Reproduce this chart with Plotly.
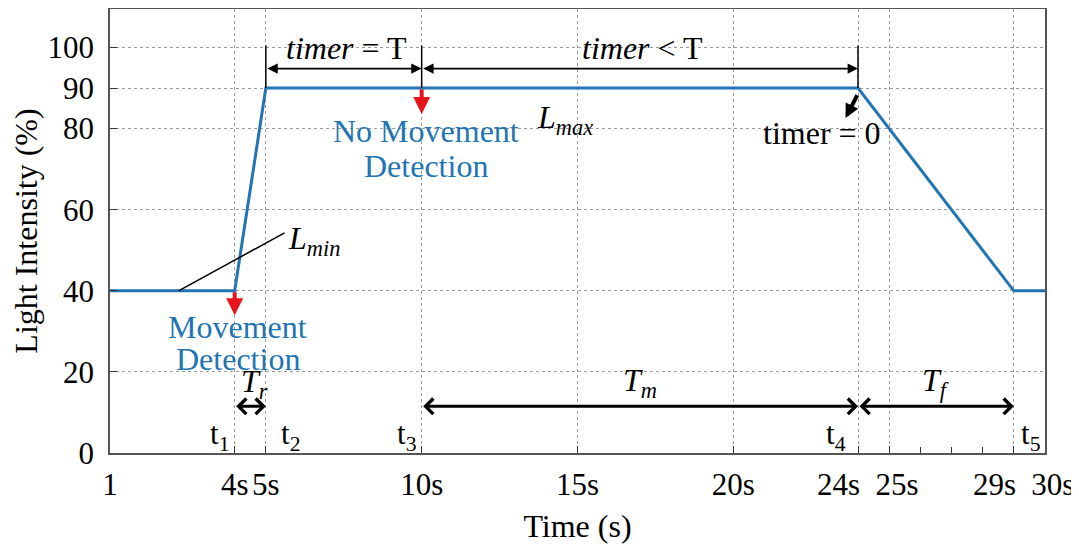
import plotly.graph_objects as go

# Data
time_s = [0, 4, 5, 24, 29, 30]
intensity = [40, 40, 90, 90, 40, 40]
x_tickvals = [0, 4, 5, 10, 15, 20, 24, 25, 29, 30]
NB = "\u00a0"
x_ticktext = ["1", "4s", "5s", "10s", "15s", "20s", "24s" + NB * 5, NB * 2 + "25s",
              "29s" + NB * 5, NB * 2 + "30s"]
y_tickvals = [0, 20, 40, 60, 80, 90, 100]

BLUE = "#2275b3"
FONT = "Liberation Serif"
TS = 32

fig = go.Figure()
fig.add_trace(go.Scatter(x=time_s, y=intensity, mode="lines",
                         line=dict(color=BLUE, width=3), showlegend=False,
                         hoverinfo="skip"))

ann = []
def text(x, y, s, size=TS, color="black", xanchor="center"):
    ann.append(dict(x=x, y=y, text=s, showarrow=False, xanchor=xanchor,
                    font=dict(family=FONT, size=size, color=color)))

def arrow(x0, y0, x1, y1, head=1, width=2, color="black", both=False, size=1.0):
    d = dict(x=x1, y=y1, ax=x0, ay=y0, xref="x", yref="y", axref="x", ayref="y",
             text="", showarrow=True, arrowhead=head, arrowwidth=width,
             arrowcolor=color, arrowsize=size)
    if both:
        d["arrowside"] = "end+start"
        d["startarrowhead"] = head
        d["startarrowsize"] = size
    ann.append(d)

# top
text(7.6, 99.9, "<i>timer</i> = T")
text(17.1, 99.9, "<i>timer</i> < T")
arrow(5, 94.8, 10, 94.8, head=2, width=1.6, both=True, size=1.3)
arrow(10, 94.8, 24, 94.8, head=2, width=1.6, both=True, size=1.3)

# red arrows
arrow(10, 90, 10, 83.6, head=2, width=4, color="#e8141c", size=0.85)
arrow(4, 40, 4, 34.0, head=2, width=4, color="#e8141c", size=0.85)

text(10.15, 79.4, "No Movement", color=BLUE)
text(10.15, 70.8, "Detection", color=BLUE)
text(4.1, 31.0, "Movement", color=BLUE)
text(4.1, 23.3, "Detection", color=BLUE)
text(14.6, 82.3, "<i>L<sub>max</sub></i>")
text(22.85, 78.8, "timer = 0")
arrow(24.0, 88.6, 23.6, 82.6, head=2, width=4, size=0.7)

# L_min
text(5.65, 52.3, "<i>L<sub>min</sub></i>", xanchor="left")

# bottom arrows
arrow(4, 11.5, 5, 11.5, head=4, width=3, both=True, size=1.0)
arrow(10, 11.5, 24, 11.5, head=4, width=3, both=True, size=1.0)
arrow(24, 11.5, 29, 11.5, head=4, width=3, both=True, size=1.0)
text(4.65, 17.1, "<i>T<sub>r</sub></i>")
text(17.0, 17.3, "<i>T<sub>m</sub></i>")
text(26.5, 17.3, "<i>T<sub>f</sub></i>")
for xx, lab in [(3.5, "t<sub>1</sub>"), (5.8, "t<sub>2</sub>"), (9.5, "t<sub>3</sub>"),
                (23.3, "t<sub>4</sub>"), (29.55, "t<sub>5</sub>")]:
    text(xx, 4.3, lab, size=31)

shapes = [
    dict(type="line", x0=5, x1=5, y0=90, y1=100.5, line=dict(color="black", width=1.5)),
    dict(type="line", x0=10, x1=10, y0=90, y1=100.5, line=dict(color="black", width=1.5)),
    dict(type="line", x0=24, x1=24, y0=90, y1=100.5, line=dict(color="black", width=1.5)),
    dict(type="line", x0=2.2, x1=5.6, y0=40, y1=54.3, line=dict(color="black", width=1.5)),
]

fig.update_layout(
    width=1071, height=538,
    margin=dict(l=102, r=34, t=1, b=93),
    paper_bgcolor="white", plot_bgcolor="white",
    font=dict(family=FONT, size=31, color="black"),
    annotations=ann, shapes=shapes,
    xaxis=dict(range=[0, 30], tickvals=x_tickvals, ticktext=x_ticktext,
               tickangle=0, automargin=False,
               showgrid=True, gridcolor="#9a9a9a", griddash="dot", gridwidth=1,
               showline=True, linecolor="#555", linewidth=1.5, mirror=True,
               ticks="inside", ticklen=7, tickcolor="#333",
               ticklabelstandoff=3,
               minor=dict(tickvals=[26, 27, 28], ticks="inside", ticklen=6,
                          tickcolor="#333", showgrid=False),
               zeroline=False, tickfont=dict(size=31),
               title=dict(text="Time (s)", font=dict(size=32), standoff=14)),
    yaxis=dict(range=[0, 109.5], tickvals=y_tickvals, automargin=False,
               showgrid=True, gridcolor="#9a9a9a", griddash="dot", gridwidth=1,
               showline=True, linecolor="#555", linewidth=1.5, mirror=True,
               ticks="inside", ticklen=7, tickcolor="#333",
               ticklabelstandoff=8,
               zeroline=False, tickfont=dict(size=31),
               title=dict(text="Light Intensity (%)", font=dict(size=32), standoff=1)),
)

fig.write_html("out.html")
